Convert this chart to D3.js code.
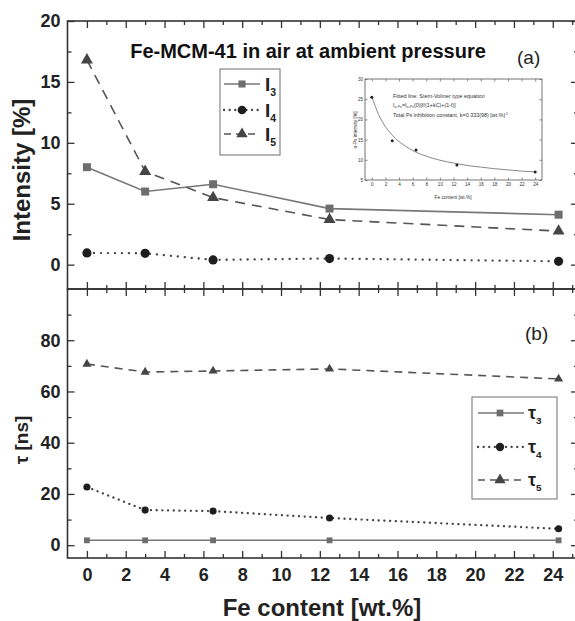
<!DOCTYPE html>
<html>
<head>
<meta charset="utf-8">
<script src="https://cdn.jsdelivr.net/npm/d3@7"></script>
<style>
  body { margin: 0; background: #fff; }
  svg text { font-family: 'Liberation Sans', Arial, sans-serif; }
</style>
</head>
<body>
<script>
// Fe content of the samples [wt.%]
const feContent = [0, 3, 6.5, 12.5, 24.3]

// panel (a): intensities [%]
const intensityI3 = [8.0, 6.0, 6.6, 4.6, 4.1]
const intensityI4 = [0.96, 0.93, 0.39, 0.5, 0.27]
const intensityI5 = [16.8, 7.65, 5.5, 3.7, 2.75]

// panel (b): lifetimes [ns]
const tau3 = [1.9, 1.9, 1.9, 1.9, 1.9]
const tau4 = [22.7, 13.7, 13.3, 10.6, 6.4]
const tau5 = [70.7, 67.6, 68.0, 68.8, 64.9]

// inset: o-Ps intensity with Stern-Volmer fit
const insetContent = [0, 3, 6.5, 12.5, 24]
const insetOPs = [25.5, 14.7, 12.4, 8.7, 7.0]
const fitContent = [0, 1, 2, 3, 4, 5, 6, 8, 10, 12, 14, 16, 18, 20, 22, 24]
const fitOPs = [25.6, 21.2, 18.2, 16.1, 14.5, 13.3, 12.3, 10.9, 9.9, 9.2, 8.6, 8.2, 7.8, 7.5, 7.2, 7.0]

// ticks
const xMajor = [0, 2, 4, 6, 8, 10, 12, 14, 16, 18, 20, 22, 24]
const xMinor = [1, 3, 5, 7, 9, 11, 13, 15, 17, 19, 21, 23, 25]
const intensityMajor = [0, 5, 10, 15, 20]
const intensityMinor = [2.5, 7.5, 12.5, 17.5]
const tauMajor = [0, 20, 40, 60, 80]
const tauMinor = [10, 30, 50, 70, 90]
const insetXMajor = [0, 2, 4, 6, 8, 10, 12, 14, 16, 18, 20, 22, 24]
const insetYMajor = [5, 10, 15, 20, 25, 30]

const W = 575, H = 621
const FRAME = '#333'

const svg = d3.select('body').append('svg')
  .attr('width', W).attr('height', H)
  .attr('viewBox', `0 0 ${W} ${H}`)

svg.append('rect').attr('width', W).attr('height', H).attr('fill', '#fff')

const x = d3.scaleLinear().domain([-1, 25.3]).range([67.5, 578])
const yA = d3.scaleLinear().domain([-2, 20]).range([289, 21])
const yB = d3.scaleLinear().domain([-5, 100]).range([558, 289])

const tickStyle = (g, size) => {
  g.select('.domain').remove()
  g.selectAll('line').attr('stroke', FRAME).attr('stroke-width', 1.3)
  g.selectAll('text').attr('fill', '#222').attr('font-weight', 'bold').attr('font-size', size)
}

const axisG = (axis, tx, ty, size = 18) =>
  svg.append('g').attr('transform', `translate(${tx},${ty})`).call(axis).call(tickStyle, size)

// x ticks: top of (a), divider (both ways), bottom of (b)
for (const [ax, ty] of [[d3.axisTop, 21], [d3.axisBottom, 289]]) {
  axisG(ax(x).tickValues(xMajor).tickSize(-7).tickFormat(''), 0, ty)
  axisG(ax(x).tickValues(xMinor).tickSize(-4).tickFormat(''), 0, ty)
}
axisG(d3.axisTop(x).tickValues(xMajor).tickSize(-7).tickFormat(''), 0, 289)
axisG(d3.axisTop(x).tickValues(xMinor).tickSize(-4).tickFormat(''), 0, 289)
axisG(d3.axisBottom(x).tickValues(xMajor).tickSize(-7).tickPadding(10).tickFormat(d3.format('d')), 0, 558)
axisG(d3.axisBottom(x).tickValues(xMinor).tickSize(-4).tickFormat(''), 0, 558)

// y ticks
axisG(d3.axisLeft(yA).tickValues(intensityMajor).tickSize(-7).tickPadding(7), 67.5, 0)
axisG(d3.axisLeft(yA).tickValues(intensityMinor).tickSize(-4).tickFormat(''), 67.5, 0)
axisG(d3.axisRight(yA).tickValues(intensityMajor).tickSize(-7).tickFormat(''), 578, 0)
axisG(d3.axisRight(yA).tickValues(intensityMinor).tickSize(-4).tickFormat(''), 578, 0)
axisG(d3.axisLeft(yB).tickValues(tauMajor).tickSize(-7).tickPadding(7), 67.5, 0)
axisG(d3.axisLeft(yB).tickValues(tauMinor).tickSize(-4).tickFormat(''), 67.5, 0)
axisG(d3.axisRight(yB).tickValues(tauMajor).tickSize(-7).tickFormat(''), 578, 0)
axisG(d3.axisRight(yB).tickValues(tauMinor).tickSize(-4).tickFormat(''), 578, 0)

// frames
for (const [y0, y1] of [[yA(20), yA(-2)], [yB(100), yB(-5)]]) {
  svg.append('rect')
    .attr('x', x(-1)).attr('y', y0)
    .attr('width', x(25.3) - x(-1)).attr('height', y1 - y0)
    .attr('fill', 'none').attr('stroke', FRAME).attr('stroke-width', 1.6)
}

// series styles
const styles = [
  { stroke: '#777', dash: null, width: 1.6, symbol: d3.symbolSquare, fill: '#6e6e6e', cap: 'butt' },
  { stroke: '#444', dash: '0.1,6.6', width: 2.3, symbol: d3.symbolCircle, fill: '#1e1e1e', cap: 'round' },
  { stroke: '#555', dash: '9,6', width: 1.6, symbol: d3.symbolTriangle, fill: '#454545', cap: 'butt' }
]

const drawSeries = (y, sets, sizes, dashes) => {
  sets.forEach((vals, i) => {
    const s = styles[i]
    const pts = feContent.map((c, j) => [c, vals[j]])
    svg.append('path')
      .datum(pts)
      .attr('d', d3.line().x(d => x(d[0])).y(d => y(d[1])))
      .attr('fill', 'none')
      .attr('stroke', s.stroke)
      .attr('stroke-width', s.width)
      .attr('stroke-linecap', s.cap)
      .attr('stroke-dasharray', dashes[i])
    svg.append('g').selectAll('path')
      .data(pts)
      .join('path')
      .attr('transform', d => `translate(${x(d[0])},${y(d[1])})`)
      .attr('d', d3.symbol(s.symbol, sizes[i]))
      .attr('fill', s.fill)
  })
}

drawSeries(yA, [intensityI3, intensityI4, intensityI5], [64, 66, 62], [null, '0.1,6.9', '10,7'])
drawSeries(yB, [tau3, tau4, tau5], [34, 40, 36], [null, '0.1,5.6', '8,6'])

// titles
svg.append('text')
  .attr('x', 308).attr('y', 58)
  .attr('text-anchor', 'middle')
  .attr('font-weight', 'bold').attr('font-size', 20)
  .attr('fill', '#111')
  .text('Fe-MCM-41 in air at ambient pressure')

svg.append('text').attr('x', 517).attr('y', 64)
  .attr('font-size', 19).attr('fill', '#222').text('(a)')
svg.append('text').attr('x', 525).attr('y', 340)
  .attr('font-size', 19).attr('fill', '#222').text('(b)')

svg.append('text')
  .attr('transform', 'translate(30,170) rotate(-90)')
  .attr('text-anchor', 'middle')
  .attr('font-weight', 'bold').attr('font-size', 24).attr('fill', '#222')
  .text('Intensity [%]')

svg.append('text')
  .attr('transform', 'translate(28,440) rotate(-90)')
  .attr('text-anchor', 'middle')
  .attr('font-weight', 'bold').attr('font-size', 19).attr('fill', '#222')
  .text('τ [ns]')

svg.append('text')
  .attr('x', 322).attr('y', 616)
  .attr('text-anchor', 'middle')
  .attr('font-weight', 'bold').attr('font-size', 24).attr('fill', '#222')
  .text('Fe content [wt.%]')

// legends
const legend = (bx, by, bw, bh, rows, lx0, lx1, mx, tx, label, fs, sizes) => {
  svg.append('rect')
    .attr('x', bx).attr('y', by).attr('width', bw).attr('height', bh)
    .attr('fill', '#fff').attr('stroke', '#888').attr('stroke-width', 1.2)
  rows.forEach((ry, i) => {
    const s = styles[i]
    svg.append('line')
      .attr('x1', lx0).attr('x2', lx1).attr('y1', ry).attr('y2', ry)
      .attr('stroke', s.stroke).attr('stroke-width', s.width)
      .attr('stroke-linecap', s.cap)
      .attr('stroke-dasharray', i === 0 ? null : i === 1 ? '0.1,5.5' : '7,5')
    svg.append('path')
      .attr('transform', `translate(${mx},${ry})`)
      .attr('d', d3.symbol(s.symbol, sizes[i]))
      .attr('fill', s.fill)
    const t = svg.append('text')
      .attr('x', tx).attr('y', ry + fs * 0.36)
      .attr('font-weight', 'bold').attr('font-size', fs).attr('fill', '#222')
      .text(label)
    t.append('tspan').attr('dy', 5).attr('font-size', fs * 0.55).text(3 + i)
  })
}

legend(220, 69, 60, 86, [84, 110, 134], 224, 260, 242, 265, 'I', 19, [50, 60, 56])
legend(472, 397, 85, 102, [413, 447, 480], 478, 524, 500, 528, 'τ', 18, [45, 55, 55])

// inset
const ix = d3.scaleLinear().domain([-1, 25]).range([365, 542])
const iy = d3.scaleLinear().domain([5, 30]).range([180, 79])
const inset = svg.append('g')

inset.append('rect')
  .attr('x', 365).attr('y', 79).attr('width', 177).attr('height', 101)
  .attr('fill', '#fff')

const insetAxis = (axis, tx, ty, fmt) => {
  const g = inset.append('g').attr('transform', `translate(${tx},${ty})`).call(axis)
  g.select('.domain').remove()
  g.selectAll('line').attr('stroke', '#555').attr('stroke-width', 0.7)
  g.selectAll('text').attr('font-size', 4.6).attr('fill', '#333')
  return g
}
insetAxis(d3.axisBottom(ix).tickValues(insetXMajor).tickSize(-2.5).tickPadding(3), 0, 180)
insetAxis(d3.axisTop(ix).tickValues(insetXMajor).tickSize(-2.5).tickFormat(''), 0, 79)
insetAxis(d3.axisLeft(iy).tickValues(insetYMajor).tickSize(-2.5).tickPadding(2), 365, 0)
insetAxis(d3.axisRight(iy).tickValues(insetYMajor).tickSize(-2.5).tickFormat(''), 542, 0)

inset.append('rect')
  .attr('x', 365).attr('y', 79).attr('width', 177).attr('height', 101)
  .attr('fill', 'none').attr('stroke', '#666').attr('stroke-width', 0.9)

inset.append('path')
  .datum(fitContent.map((c, i) => [c, fitOPs[i]]))
  .attr('d', d3.line().curve(d3.curveMonotoneX).x(d => ix(d[0])).y(d => iy(d[1])))
  .attr('fill', 'none').attr('stroke', '#888').attr('stroke-width', 1)

inset.append('g').selectAll('circle')
  .data(insetContent.map((c, i) => [c, insetOPs[i]]))
  .join('circle')
  .attr('cx', d => ix(d[0])).attr('cy', d => iy(d[1]))
  .attr('r', 1.5).attr('fill', '#222')

const note = (y) => inset.append('text')
  .attr('x', 393).attr('y', y)
  .attr('font-size', 5.4).attr('fill', '#333')

note(98).text('Fitted line: Stern-Volmer type equation')
const eq = note(106.5)
eq.append('tspan').text('I')
eq.append('tspan').attr('font-size', 3.6).attr('dy', 1.5).text('o-Ps')
eq.append('tspan').attr('dy', -1.5).text('=I')
eq.append('tspan').attr('font-size', 3.6).attr('dy', 1.5).text('o-Ps')
eq.append('tspan').attr('dy', -1.5).text('(0)[f/(1+kC)+(1-f)]')
const k = note(117)
k.append('tspan').text('Total Ps inhibition constant, k=0.333(98) [wt.%]')
k.append('tspan').attr('font-size', 3.6).attr('dy', -2).text('-1')

inset.append('text')
  .attr('transform', 'translate(357,130) rotate(-90)')
  .attr('text-anchor', 'middle')
  .attr('font-size', 4.8).attr('fill', '#333')
  .text('o-Ps intensity [%]')

inset.append('text')
  .attr('x', 453).attr('y', 199)
  .attr('text-anchor', 'middle')
  .attr('font-size', 4.8).attr('fill', '#333')
  .text('Fe content [wt.%]')
</script>
</body>
</html>
